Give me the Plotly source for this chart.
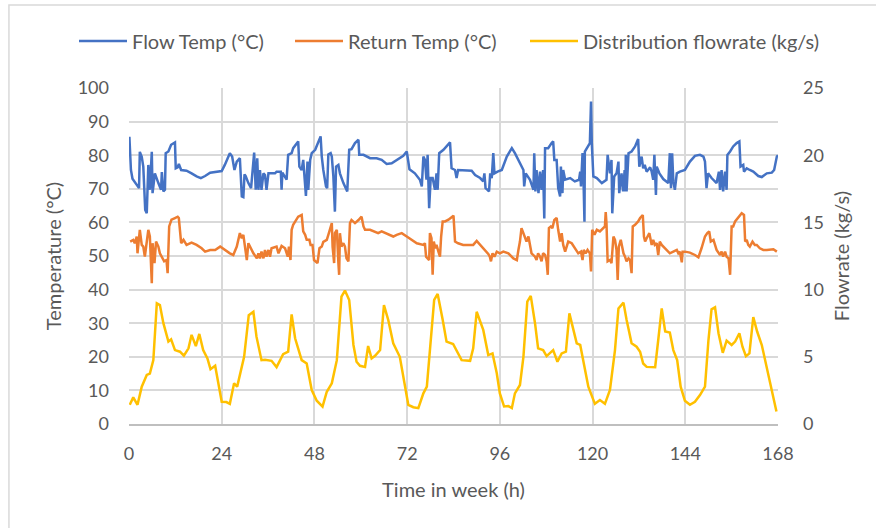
import plotly.graph_objects as go

# Hour-of-week positions and values
flow_h = [0.1,0.5,0.9,2.4,2.6,2.8,3.3,3.7,4.0,4.2,4.6,5.0,5.4,5.9,6.1,6.7,7.6,8.3,8.5,8.9,9.3,9.5,10.2,10.9,11.9,12.1,12.6,12.9,13.5,14.9,16.2,17.5,18.6,19.7,21,22.3,24,24.8,26.1,26.7,27.3,27.9,28.7,29.2,29.6,29.9,30.2,30.9,31.6,32.4,32.8,33.2,33.5,33.9,34.3,34.8,35.2,35.6,36.1,37.8,38.2,39.3,39.5,39.7,40.4,40.8,41.2,42.1,42.5,
          43.8,44.1,44.7,45.1,45.6,45.8,46.2,46.4,46.9,47.3,48.2,49,49.6,49.9,50.3,51,51.3,51.6,52.2,52.5,52.9,53.3,53.6,54.2,54.6,55.5,56.2,56.5,57,57.6,58.5,59.4,59.6,60.7,62.4,64.1,65.4,66.7,68,69.3,71,71.9,72.6,74,75.3,75.8,76.2,76.6,77,77.3,77.7,78.1,78.6,79.2,79.6,79.9,80.3,81.4,83.1,83.5,84.4,84.8,85.2,
          88.7,89.6,90.9,91.7,92,92.3,92.8,93.2,93.5,93.9,94.3,94.6,95.4,96.5,97.8,99.1,99.9,101.2,102.1,102.3,102.7,103.8,104.7,104.9,105.2,105.5,106,106.4,106.8,107.2,107.5,107.7,108.5,109.4,109.8,110.1,110.7,111.1,111.6,111.8,112.2,112.4,112.9,114.2,115.4,116.5,116.8,117,117.4,117.6,117.9,118,118.9,119.3,119.6,119.8,120.2,121.1,122.4,123.6,123.9,124.5,124.9,125.1,125.6,126.2,126.7,126.9,
          127.5,127.9,128.3,128.5,128.6,128.8,129.3,130.1,131,131.8,132.1,132.7,133.1,133.5,134,134.9,135.3,135.7,136,136.4,136.6,137.3,138.3,139.6,140,140.3,140.6,140.9,141.3,141.8,142.6,143.9,145.2,146.5,147.8,148.7,149.1,149.5,149.9,150.8,152.1,152.7,153,153.4,153.8,154.3,154.7,154.9,155.6,156.4,157.3,158,158.3,159,159.2,159.9,160.7,161.6,162.9,163.8,165.1,166.4,167,167.7,168]
flow_temp = [85.5,75.6,73,70.7,70.2,81,79.5,76.6,67.7,63.7,62.7,77.1,69.7,81,68.7,74.6,71.7,69.7,75,69.2,69.7,80.6,81.1,83.1,83.8,76.1,76.4,77.4,75.6,75.4,74.6,73.7,73.2,73.8,74.8,75.1,75.3,77.1,80.6,79.6,75.6,78.1,79.1,67.7,67.5,74.3,73.8,71.7,70.2,80.8,69.7,79.1,69.7,75.6,69.7,74.6,74.1,69.7,74.6,74.6,75.1,75.1,69.7,74.8,73.7,72.7,80.1,80.6,82.1,
             84.1,76.6,75.6,78.6,69.7,67.9,78.1,69.7,78.6,80.6,81.6,83.6,85.6,79.6,75.6,70.7,70.2,80.2,80.6,79.6,73.7,63.2,76.6,77.1,74.6,71.7,69.7,69.2,81.6,81.8,83.6,84.6,80.1,80.1,79.1,79.1,78.6,77.4,77.6,78.6,79.8,81.1,75.8,74.6,72.7,70.7,79.6,78.6,72.7,80.1,64.2,73.2,73.2,69.7,74.6,69.7,80.6,81.6,83.8,76.1,75.6,73.2,75.6,
             75.4,74.1,73.2,72.2,74.6,70.2,69.7,69.2,74.6,73.2,80.6,74.6,75.1,75.6,79.6,82.1,80.6,77.6,75.6,70.7,74.6,72.7,69.7,80.6,69.2,75.6,68.7,75.1,69.7,75.6,61.2,82.1,82.1,83.6,84.1,78.6,78.6,70.2,67.7,76.6,68.7,75.6,72.7,73.2,72.2,72.7,75.1,70.7,80.6,75.6,60.2,81.1,82.6,83.6,96,83.6,73.7,73.2,71.7,72.7,80.1,74.6,78.6,62.7,73.7,74.6,78.1,68.7,
             74.6,69.2,75.6,69.2,80.1,69.2,80.6,81.1,82.6,84.8,76.6,79.6,76.1,77.1,75.1,76.4,75.1,72.7,80.1,68.2,76.6,74.6,72.9,71.7,80.6,70.2,80.6,72.2,69.7,74.6,75.1,75.6,78.1,79.8,80.1,79.6,78.1,70.2,74.6,73.2,71.7,75.1,69.7,75.6,69.2,75.1,69.7,80.1,81.1,82.6,83.6,84.1,76.6,77.1,75.1,76.1,75.6,75.1,73.8,73.5,74.6,74.8,75.6,79.6,80]

return_h = [0.3,1.1,1.5,2,2.2,2.8,3.3,3.7,4.1,4.6,5,5.4,5.9,6.1,6.6,7,7.6,8,8.5,9.1,9.7,10,10.4,11,11.9,12.6,12.9,13.2,13.5,14.1,14.9,16.2,17.5,18.8,19.7,21,22.3,23.6,24.8,26.1,27,27.9,28.7,29.2,29.6,30,30.5,30.9,31.3,32.2,33.1,33.5,33.9,34.3,34.8,35.2,35.6,36.1,36.5,36.9,38.2,38.7,39.5,40.4,41.1,41.4,41.8,
            42.1,42.5,43,43.8,44.7,45.1,45.6,46,46.7,47,47.5,47.9,48.4,48.8,49.3,49.9,50.3,51.2,51.6,52,52.5,52.7,53.1,53.3,53.8,54.2,54.4,54.6,55,55.5,55.9,56.3,56.8,57.2,57.6,58,58.5,59.4,60.2,60.7,61.1,62.4,63.7,64.5,65.4,66.7,67.6,68.4,69.3,70.6,71.9,73.2,74.5,76.2,76.6,76.9,77.2,77.7,77.9,78.3,78.6,78.9,79.3,79.6,80.1,80.5,80.8,81.2,81.8,82.7,84,
            84.4,85.2,86.5,88.2,89.1,90,90.9,92.2,93,93.4,93.7,94.1,94.6,95.2,96,96.9,98.2,99.5,100.4,100.8,101.2,101.6,102.5,102.9,103.4,103.8,104.2,105.1,105.5,105.9,106.4,106.8,107.2,107.7,108.1,108.4,108.7,109.2,109.6,110.1,110.7,111.1,111.6,112,112.4,112.9,113.7,114.6,115.5,116.3,117,117.4,117.7,118.2,118.7,119.3,119.6,119.9,120.5,121.1,121.9,122.8,123.2,123.4,123.6,123.9,124.5,124.9,125.4,125.8,126.2,126.5,126.8,
            127.3,127.6,128,128.4,128.8,129.3,129.7,130.1,130.4,131,131.4,131.8,132.3,133,133.3,133.6,134,134.7,135.3,135.7,136.1,136.6,137,137.4,137.9,138.3,139.2,140,140.9,141.8,142.2,142.6,143.1,143.3,143.9,145.2,146.5,147.4,148.2,149.1,149.7,150.2,150.6,151.3,152.1,153,153.4,153.8,154.3,154.7,155.2,155.6,156,156.4,156.9,157.7,158.6,159.2,159.5,159.9,160.3,160.7,161.4,162,162.5,163.3,164.2,165.1,165.9,166.8,167.7]
return_temp = [54.3,54.8,53.8,55.8,50.8,57.8,53.3,52.8,49.8,53.8,57.8,55.8,41.9,53.8,47.9,54.3,52.8,50.8,49.8,48.4,48.8,44.9,58.8,60.8,61.3,61.7,61.3,55.8,53.8,54.8,53.3,54,53.3,52.3,51.3,51.8,51.8,52.8,51.8,50.8,50.3,52.8,56.8,55.3,56.3,53.3,48.8,53.8,52.8,50.8,49.3,50.8,49.3,51.3,49.3,51.8,49.8,51.8,49.8,52.3,52.8,50.8,53,52.3,49.8,52.8,48.8,
               57.8,59.3,60.3,61.7,62.2,57.3,56.3,54.8,54.8,53.3,53.3,48.8,48.3,47.9,52.3,52.8,54.2,54.8,56.3,57.8,59.8,52.8,47.9,56.8,57.8,47.9,44.4,56.8,52.8,53.8,52.8,49.3,48.4,59.8,60.7,60.3,59.8,60.7,61.7,58.8,57.8,57.8,57.3,56.8,57.3,56.6,56.3,55.8,56.3,56.8,55.8,54.8,53.8,53.3,53.8,49.8,49.3,48.8,56.8,55.3,44.4,54.3,52.3,53.3,51.3,49.8,55.8,60.3,60.3,60.8,62,
               54.3,53.8,53.3,53.3,53.3,54.5,53.3,51.8,50.6,49.8,48.4,50.8,49.8,51.3,50.8,51.3,50.8,49.3,48.8,51.8,54.3,58.3,55.8,54.3,55.8,53.3,50.8,49.8,48.8,50.8,49.8,48.4,50.8,50.3,48.4,44.4,58.3,58.8,58.3,60.7,61.3,57.8,54.3,56.8,53.3,51.3,54.3,53.8,52.3,50.8,51.3,48.8,51.8,50.8,51.8,50.8,45.4,57.8,56.3,57.8,57.3,58.3,58.8,63.1,59.8,48.4,48.8,47.9,55.8,54.8,51.8,42.9,52.8,
               54.8,52.8,50.8,49.8,48.4,49.3,48.8,44.9,58.8,59.3,59.8,60.3,61.3,62.2,55.8,54.3,55.3,56.8,53.3,54.8,53.3,53.8,50.3,54.3,53.3,52.8,51.8,50.8,51.3,51.8,50.8,51.3,48.1,51.3,51.3,51,50.3,49.6,52.3,55.8,56.8,57.3,54.3,54.8,51.8,50.3,51.3,49.8,51.3,49.8,49.3,44.4,58.8,58.8,60.3,61.3,62.7,62.2,54.3,54.8,53.3,52.8,54.3,53.3,53.3,52.3,51.8,51.8,52,52,51.3]

dist_h = [0.2,1.1,2.2,3.3,4.6,5.4,6.3,7.2,8,8.9,10.2,10.9,11.9,13.2,14.2,15.4,16.2,17.3,18.2,19.2,20.3,21.1,22.3,23.1,24,25.2,26.1,27.2,28,29.8,31,32.2,33,34.3,35.2,36.9,38.2,39.9,41.2,42.1,43,44.7,46,47.3,48.6,50.1,51.2,52.5,53.8,55,55.9,57,58.1,58.9,59.8,61.1,61.9,62.8,63.7,65,66,67.1,68.4,70.1,71.4,72.3,73.6,74.9,76.2,77.1,79,79.9,81.2,82.2,83.9,86.1,88.3,89.1,90,91.7,93,94.1,95.2,96,97.1,98.2,99.1,99.9,101.2,102.1,103.1,104,105.1,105.9,107.2,108.1,109.8,110.9,112,113.1,114,115,115.9,116.8,117.6,118.9,120.6,121.9,123.2,124.5,125.8,126.7,128,128.8,130.1,131.4,132.3,133.1,134,136.2,137,137.9,138.8,140,140.9,141.9,142.8,143.9,145.2,146.5,147.8,149.1,150,150.8,151.7,152.6,153.7,154.7,156,156.9,158,158.8,159.7,160.6,161.6,162.6,163.8,164.9,165.9,166.8,167.6]
dist_flow = [1.43,1.98,1.43,2.78,3.65,3.75,4.75,8.98,8.85,7.5,6.13,6.3,5.5,5.38,5.08,5.63,6.63,5.8,6.7,5.5,4.88,4.08,4.33,3.03,1.65,1.63,1.5,3.03,2.78,5,8.1,8.35,6.5,4.75,4.78,4.7,4.23,5.2,5.38,8.15,6.38,4.75,4.5,2.53,1.73,1.3,2.4,3.03,4.75,9.48,9.93,9.23,5.88,4.63,4.33,4.25,5.8,4.88,5.08,5.5,8.85,7.75,6,5,2.78,1.43,1.25,1.18,2.28,2.78,9.23,9.68,7.75,6.13,5.95,4.75,4.7,5.63,8.35,7,5.13,5.25,3.78,2.28,1.3,1.33,1.18,2.28,2.9,5,9.1,9.53,7.5,5.63,5.5,5.05,5.5,4.63,5.25,5.38,8.23,7.13,6,5.88,4.75,2.78,1.5,1.78,1.5,2.53,5.5,8.6,9.03,7.75,6,5.75,5.38,4.5,4.25,4.23,6.25,8.6,6.88,6.8,5.5,4.75,2.78,1.73,1.43,1.65,2.15,2.78,6.25,8.53,8.68,6.75,5.3,6.2,5.88,6.13,6.75,5.75,5.05,5.25,7.95,6.88,5.88,4.4,3.28,1.9,0.93]

x_ticks = [0, 24, 48, 72, 96, 120, 144, 168]
temp_ticks = [0, 10, 20, 30, 40, 50, 60, 70, 80, 90, 100]
flow_ticks = [0, 5, 10, 15, 20, 25]

FONT = "Lato"
TXT = "#595959"
GRID = "#D9D9D9"

fig = go.Figure()
fig.add_trace(go.Scatter(x=flow_h, y=flow_temp, mode="lines", name="Flow Temp (°C)",
                         line=dict(color="#4472C4", width=2.5), legend="legend"))
fig.add_trace(go.Scatter(x=return_h, y=return_temp, mode="lines", name="Return Temp (°C)",
                         line=dict(color="#ED7D31", width=2.5), legend="legend2"))
fig.add_trace(go.Scatter(x=dist_h, y=dist_flow, mode="lines", name="Distribution flowrate (kg/s)",
                         line=dict(color="#FFC000", width=2.5), yaxis="y2", legend="legend3"))

# chart-area border (paper coordinates relative to the plot area)
fig.add_shape(type="rect", xref="paper", yref="paper", x0=-0.185, x1=1.3, y0=-0.5, y1=1.247,
              line=dict(color="#D9D9D9", width=1.5), fillcolor="rgba(0,0,0,0)", layer="below")


def leg(xpx):
    return dict(orientation="h", xref="container", x=xpx / 876, xanchor="left",
                yref="container", y=1 - 41 / 528, yanchor="middle",
                font=dict(size=20, color=TXT), bgcolor="rgba(0,0,0,0)", itemwidth=48)


fig.update_layout(
    width=876, height=528,
    margin=dict(l=129, r=98, t=88, b=104, autoexpand=False),
    paper_bgcolor="white", plot_bgcolor="white",
    font=dict(family=FONT, size=18, color=TXT),
    showlegend=True,
    legend=leg(74), legend2=leg(290), legend3=leg(525),
    xaxis=dict(range=[0, 168], tickvals=x_ticks, showgrid=True, gridcolor=GRID, gridwidth=2,
               zeroline=False, showline=True, linecolor="#BFBFBF", linewidth=2,
               ticks="", ticklabelstandoff=12, tickfont=dict(size=18),
               title=dict(text="Time in week (h)", font=dict(size=20, color=TXT), standoff=20)),
    yaxis=dict(range=[0, 100], tickvals=temp_ticks, showgrid=True, gridcolor=GRID, gridwidth=2,
               zeroline=False, showline=False, ticks="", ticklabelstandoff=19, tickfont=dict(size=18),
               title=dict(text="Temperature (°C)", font=dict(size=20, color=TXT), standoff=10)),
    yaxis2=dict(range=[0, 25], tickvals=flow_ticks, overlaying="y", side="right", showgrid=False,
                zeroline=False, showline=False, ticks="", ticklabelstandoff=24, tickfont=dict(size=18),
                title=dict(text="Flowrate (kg/s)", font=dict(size=20, color=TXT), standoff=12)),
)

fig.write_html("out.html")
